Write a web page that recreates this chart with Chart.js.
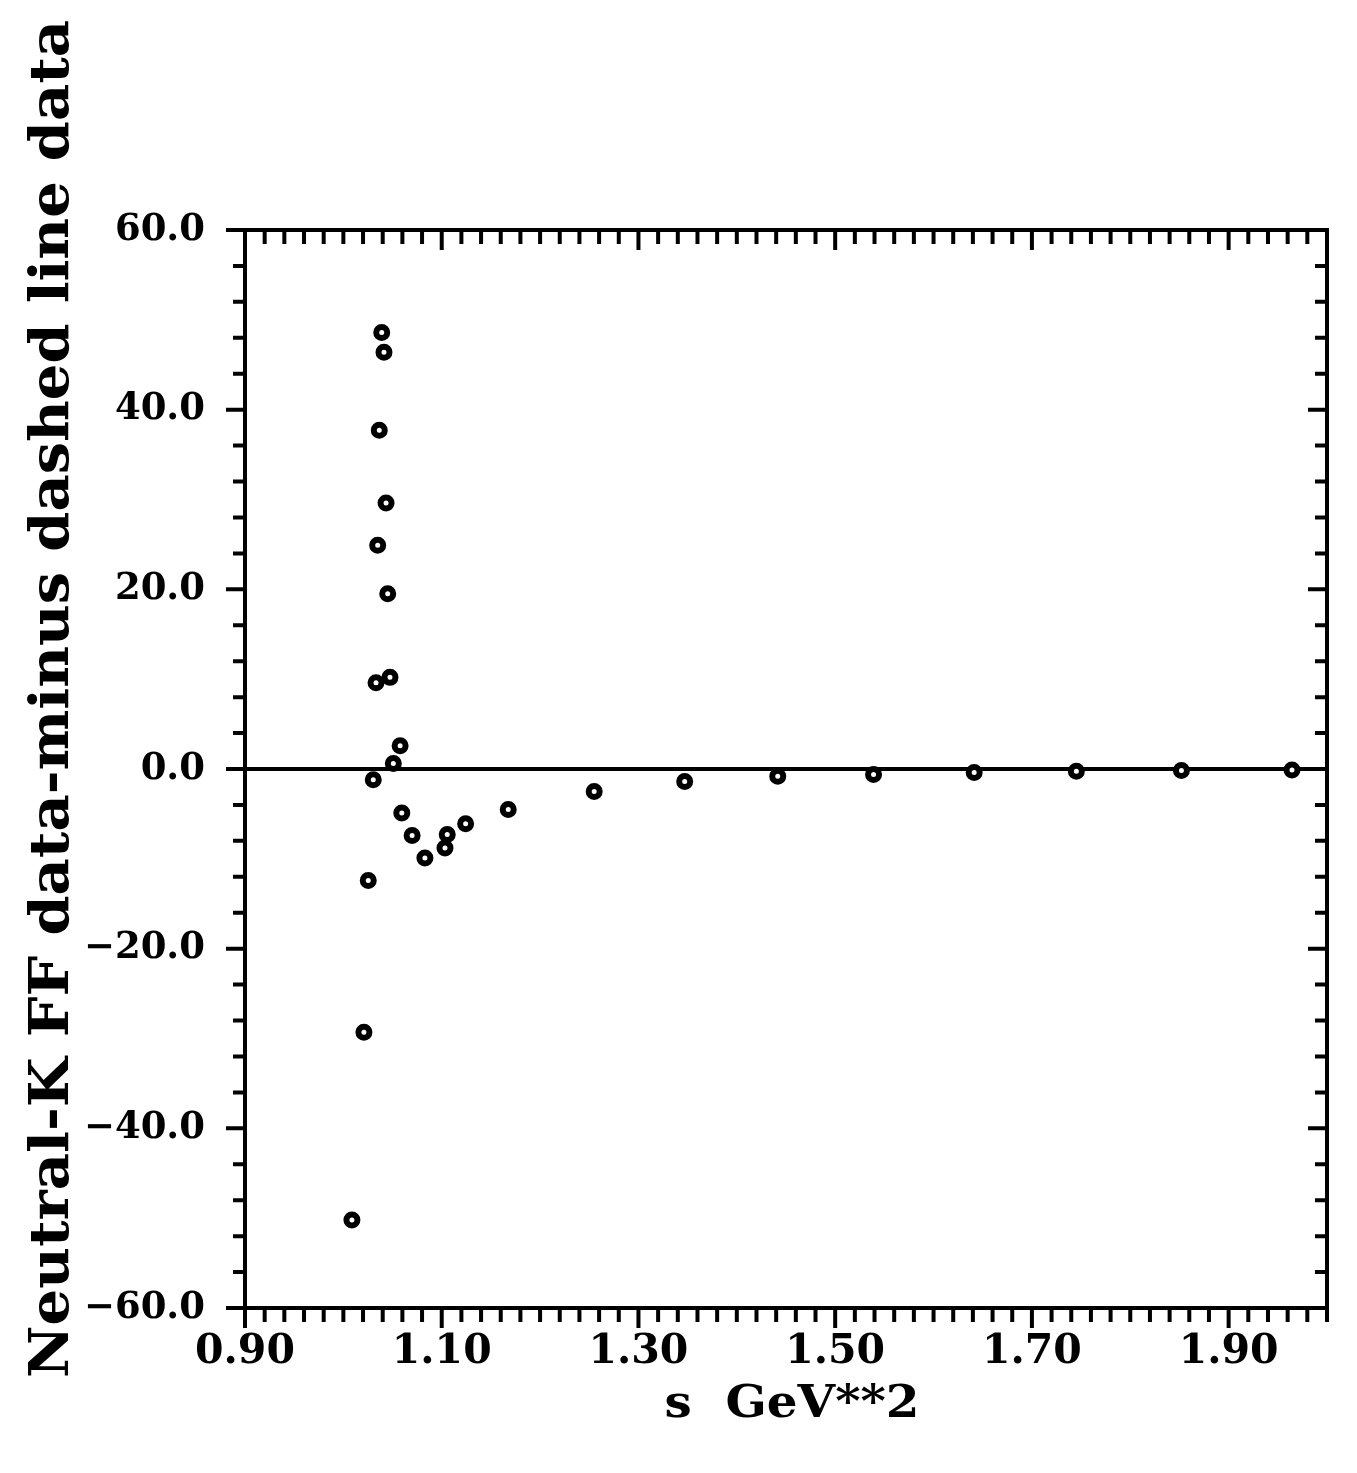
<!DOCTYPE html>
<html>
<head>
<meta charset="utf-8">
<title>Neutral-K FF data-minus dashed line data</title>
<script src="https://cdn.jsdelivr.net/npm/chart.js@4.4.1/dist/chart.umd.min.js"></script>
<style>
  html, body { margin: 0; padding: 0; background: #fff; }
  #wrap { width: 1357px; height: 1473px; }
</style>
</head>
<body>
<div id="wrap"><canvas id="chart"></canvas></div>
<script>
// s in GeV**2
const sValues = [
  1.0087, 1.0209, 1.0253, 1.0304, 1.0332, 1.0349, 1.0365, 1.0390, 1.0413, 1.0434,
  1.0451, 1.0474, 1.0508, 1.0577, 1.0594, 1.0699, 1.0829, 1.1033, 1.1056, 1.1243,
  1.1676, 1.2550, 1.3470, 1.4416, 1.5390, 1.6413, 1.7452, 1.8520, 1.9644
];
// data minus dashed line
const residuals = [
  -50.2, -29.3, -12.4, -1.2, 9.6, 24.9, 37.7, 48.6, 46.4, 29.6,
  19.5, 10.2, 0.6, 2.6, -4.9, -7.4, -9.9, -8.8, -7.3, -6.1,
  -4.5, -2.5, -1.4, -0.8, -0.6, -0.4, -0.25, -0.17, -0.1
];
const xMajorTicks = [0.9, 1.1, 1.3, 1.5, 1.7, 1.9];
const yMajorTicks = [-60, -40, -20, 0, 20, 40, 60];
const xTitle = 's  GeV**2';
const yTitle = 'Neutral-K FF data-minus dashed line data';

const FONT = '"DejaVu Serif", "Liberation Serif", serif';

function isMajor(v, list) {
  return list.some(m => Math.abs(m - v) < 1e-6);
}

// text centred on the origin, stretched/squeezed to a given width
function fitText(ctx, text, width) {
  ctx.textAlign = 'center';
  ctx.scale(width / ctx.measureText(text).width, 1);
  ctx.fillText(text, 0, 0);
}

// frame, in/out tick marks and the two axis titles
const frameTicks = {
  id: 'frameTicks',
  afterDraw(chart) {
    const { ctx, chartArea: a, scales: { x, y } } = chart;
    ctx.save();
    ctx.strokeStyle = '#000';
    ctx.lineWidth = 4;
    ctx.strokeRect(a.left, a.top, a.right - a.left, a.bottom - a.top);

    ctx.beginPath();
    x.ticks.forEach(t => {
      const px = x.getPixelForValue(t.value);
      const len = isMajor(t.value, xMajorTicks) ? 20 : 14;
      ctx.moveTo(px, a.bottom); ctx.lineTo(px, a.bottom + len);
      ctx.moveTo(px, a.top); ctx.lineTo(px, a.top + len);
    });
    y.ticks.forEach(t => {
      const py = y.getPixelForValue(t.value);
      const len = isMajor(t.value, yMajorTicks) ? 19 : 12;
      ctx.moveTo(a.left, py); ctx.lineTo(a.left - len, py);
      ctx.moveTo(a.right, py); ctx.lineTo(a.right - len, py);
    });
    ctx.stroke();

    ctx.fillStyle = '#000';
    ctx.textBaseline = 'alphabetic';

    ctx.save();
    ctx.font = 'bold 54px ' + FONT;
    ctx.translate(68, 699);
    ctx.rotate(-Math.PI / 2);
    fitText(ctx, yTitle, 1358);
    ctx.restore();

    ctx.save();
    ctx.font = 'bold 44px ' + FONT;
    ctx.translate(792, 1417);
    fitText(ctx, xTitle, 255);
    ctx.restore();

    ctx.restore();
  }
};

new Chart(document.getElementById('chart'), {
  type: 'scatter',
  data: {
    datasets: [{
      label: 'data-minus dashed line',
      data: sValues.map((s, i) => ({ x: s, y: residuals[i] })),
      pointRadius: 5.5,
      pointHoverRadius: 5.5,
      pointBorderWidth: 6,
      borderColor: '#000',
      backgroundColor: '#fff'
    }]
  },
  options: {
    responsive: true,
    maintainAspectRatio: false,
    animation: false,
    layout: { padding: { top: 230, right: 30, left: 0, bottom: 0 } },
    plugins: {
      legend: { display: false },
      tooltip: { enabled: false }
    },
    scales: {
      x: {
        type: 'linear',
        min: 0.9,
        max: 2.0,
        afterFit: s => { s.height = 165; },
        grid: { display: false, drawTicks: false },
        border: { display: false },
        ticks: {
          stepSize: 0.02,
          autoSkip: false,
          maxRotation: 0,
          padding: 20,
          color: '#000',
          font: { family: FONT, weight: 'bold', size: 41 },
          callback: v => isMajor(v, xMajorTicks) ? v.toFixed(2) : ''
        }
      },
      y: {
        min: -60,
        max: 60,
        afterFit: s => { s.width = 245; },
        grid: {
          drawTicks: false,
          lineWidth: 4,
          color: c => (c.tick && c.tick.value === 0) ? '#000' : 'rgba(0,0,0,0)'
        },
        border: { display: false },
        ticks: {
          stepSize: 4,
          autoSkip: false,
          padding: 40,
          color: '#000',
          font: { family: FONT, weight: 'bold', size: 37 },
          callback: v => isMajor(v, yMajorTicks) ? v.toFixed(1).replace('-', '\u2212') : ''
        }
      }
    }
  },
  plugins: [frameTicks]
});
</script>
</body>
</html>
